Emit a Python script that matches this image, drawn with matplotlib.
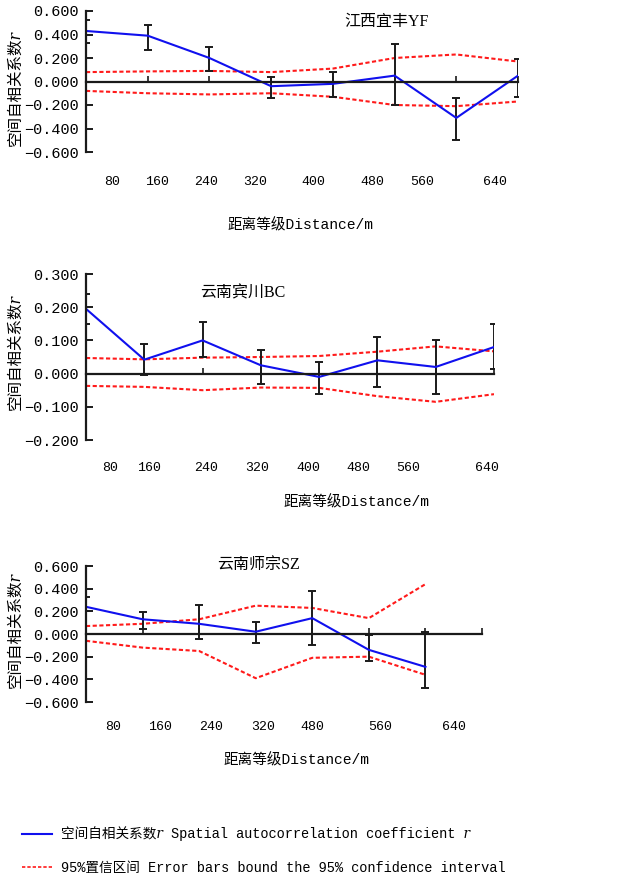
import numpy as np
import matplotlib.pyplot as plt
import matplotlib.transforms as mtransforms
from matplotlib.lines import Line2D

FONTS = ['Liberation Mono', 'Noto Sans CJK SC', 'DejaVu Serif', 'DejaVu Sans']
plt.rcParams['font.family'] = FONTS

# ---- data ----
# Jiangxi Yifeng YF
yf_r = [0.43, 0.39, 0.20, -0.04, -0.02, 0.05, -0.31, 0.05]
yf_err_hi = [0.52, 0.48, 0.29, 0.04, 0.08, 0.32, -0.14, 0.19]
yf_err_lo = [0.33, 0.27, 0.09, -0.14, -0.13, -0.20, -0.50, -0.13]
yf_ci_up = [0.08, 0.086, 0.09, 0.08, 0.11, 0.20, 0.23, 0.17]
yf_ci_lo = [-0.08, -0.10, -0.11, -0.10, -0.13, -0.20, -0.21, -0.17]
yf_ticks = ['80', '160', '240', '320', '400', '480', '560', '640']
yf_yticks = [0.6, 0.4, 0.2, 0.0, -0.2, -0.4, -0.6]

# Yunnan Binchuan BC
bc_r = [0.195, 0.042, 0.10, 0.025, -0.01, 0.04, 0.02, 0.08]
bc_err_hi = [0.24, 0.09, 0.155, 0.07, 0.035, 0.11, 0.10, 0.15]
bc_err_lo = [0.15, -0.005, 0.05, -0.03, -0.06, -0.04, -0.06, 0.013]
bc_ci_up = [0.047, 0.043, 0.048, 0.05, 0.053, 0.066, 0.082, 0.067]
bc_ci_lo = [-0.037, -0.04, -0.05, -0.042, -0.043, -0.068, -0.085, -0.062]
bc_ticks = ['80', '160', '240', '320', '400', '480', '560', '640']
bc_yticks = [0.3, 0.2, 0.1, 0.0, -0.1, -0.2]

# Yunnan Shizong SZ
sz_r = [0.24, 0.13, 0.09, 0.02, 0.14, -0.14, -0.29]
sz_err_hi = [0.33, 0.19, 0.26, 0.11, 0.38, -0.01, 0.02]
sz_err_lo = [0.20, 0.04, -0.04, -0.08, -0.10, -0.24, -0.48]
sz_ci_up = [0.07, 0.09, 0.13, 0.25, 0.23, 0.14, 0.44]
sz_ci_lo = [-0.06, -0.12, -0.15, -0.39, -0.21, -0.20, -0.36]
sz_ticks = ['80', '160', '240', '320', '480', '560', '640']
sz_yticks = [0.6, 0.4, 0.2, 0.0, -0.2, -0.4, -0.6]

# where the distance labels sit under each panel (class units)
yf_tick_pos = [0.42, 1.15, 1.94, 2.74, 3.68, 4.64, 5.45, 6.63]
bc_tick_pos = [0.41, 1.08, 2.06, 2.93, 3.81, 4.67, 5.53, 6.88]
sz_tick_pos = [0.48, 1.31, 2.22, 3.14, 4.00, 5.20, 6.50]

W, H = 620, 876
BLUE = '#1010ee'
RED = '#ff1a1a'
BLACK = '#1a1a1a'
R_IT = '\U0001D45F'  # italic r

fig = plt.figure(figsize=(W / 100, H / 100), dpi=100)


def fy(px):
    return 1 - px / H


def panel(rect_px, ylim, yticks, r, err_lo, err_hi, ci_up, ci_lo,
          ticks, tick_pos, tick_y, xlab_xy, title, title_xy, ylab_y):
    l, r_px, t, b = rect_px
    ax = fig.add_axes([l / W, fy(b), (r_px - l) / W, (b - t) / H])
    x = np.arange(len(r))
    err_lo = np.array(err_lo)
    err_hi = np.array(err_hi)
    mid = (err_lo + err_hi) / 2
    ax.plot(x, ci_up, color=RED, lw=1.5, dashes=(2, 1.2))
    ax.plot(x, ci_lo, color=RED, lw=1.5, dashes=(2, 1.2))
    ax.errorbar(x, mid, yerr=(err_hi - err_lo) / 2, fmt='none',
                ecolor=BLACK, elinewidth=1.4, capsize=3.2, capthick=1.4)
    ax.plot(x, r, color=BLUE, lw=1.5)

    ax.set_xlim(0, 7)
    ax.set_ylim(*ylim)
    for s in ['top', 'right']:
        ax.spines[s].set_visible(False)
    ax.spines['bottom'].set_position(('data', 0))
    for s in ['bottom', 'left']:
        ax.spines[s].set_linewidth(1.6)
        ax.spines[s].set_color(BLACK)
    ax.set_xticks(np.arange(1, 8))
    ax.tick_params(axis='x', direction='in', length=4, width=1.2,
                   labelbottom=False, color=BLACK)
    ax.set_yticks(yticks)
    ax.set_yticklabels([f"{v:.3f}".replace('-', '\u2212') for v in yticks])
    ax.tick_params(axis='y', direction='in', length=5, width=1.4,
                   labelsize=11, pad=5, color=BLACK)

    fig.text(15 / W, fy(ylab_y), '空间自相关系数' + R_IT, rotation=90,
             ha='center', va='center', fontsize=11.2)

    tr = mtransforms.blended_transform_factory(ax.transData, fig.transFigure)
    for lab, p in zip(ticks, tick_pos):
        fig.text(p, fy(tick_y), lab, transform=tr, ha='center', va='center',
                 fontsize=9.5)
    fig.text(xlab_xy[0] / W, fy(xlab_xy[1]), '距离等级Distance/m',
             ha='center', va='center', fontsize=10.5)
    fig.text(title_xy[0] / W, fy(title_xy[1]), title, ha='center',
             va='center', fontsize=11.5,
             family=['Liberation Serif', 'Noto Sans CJK SC'])
    return ax


panel((86, 518, 11, 152), (-0.6, 0.6), yf_yticks, yf_r, yf_err_lo, yf_err_hi,
      yf_ci_up, yf_ci_lo, yf_ticks, yf_tick_pos, 182, (300, 225),
      '江西宜丰YF', (386, 22), 88)
panel((86, 494, 274, 440), (-0.2, 0.3), bc_yticks, bc_r, bc_err_lo, bc_err_hi,
      bc_ci_up, bc_ci_lo, bc_ticks, bc_tick_pos, 468, (356, 502),
      '云南宾川BC', (243, 293), 352)
panel((86, 482, 566, 702), (-0.6, 0.6), sz_yticks, sz_r, sz_err_lo, sz_err_hi,
      sz_ci_up, sz_ci_lo, sz_ticks, sz_tick_pos, 727, (297, 760),
      '云南师宗SZ', (258, 565), 630)

handles = [Line2D([], [], color=BLUE, lw=1.5),
           Line2D([], [], color=RED, lw=1.2, dashes=(2, 1.2))]
labels = ['空间自相关系数' + R_IT + ' Spatial autocorrelation coefficient ' + R_IT,
          '95%置信区间 Error bars bound the 95% confidence interval']
fig.legend(handles, labels, loc='upper left',
           bbox_to_anchor=(17 / W, fy(821)), frameon=False, fontsize=9.8,
           handlelength=2.2, handletextpad=0.6, labelspacing=1.45,
           borderaxespad=0)

fig.savefig('out.png', dpi=100)
